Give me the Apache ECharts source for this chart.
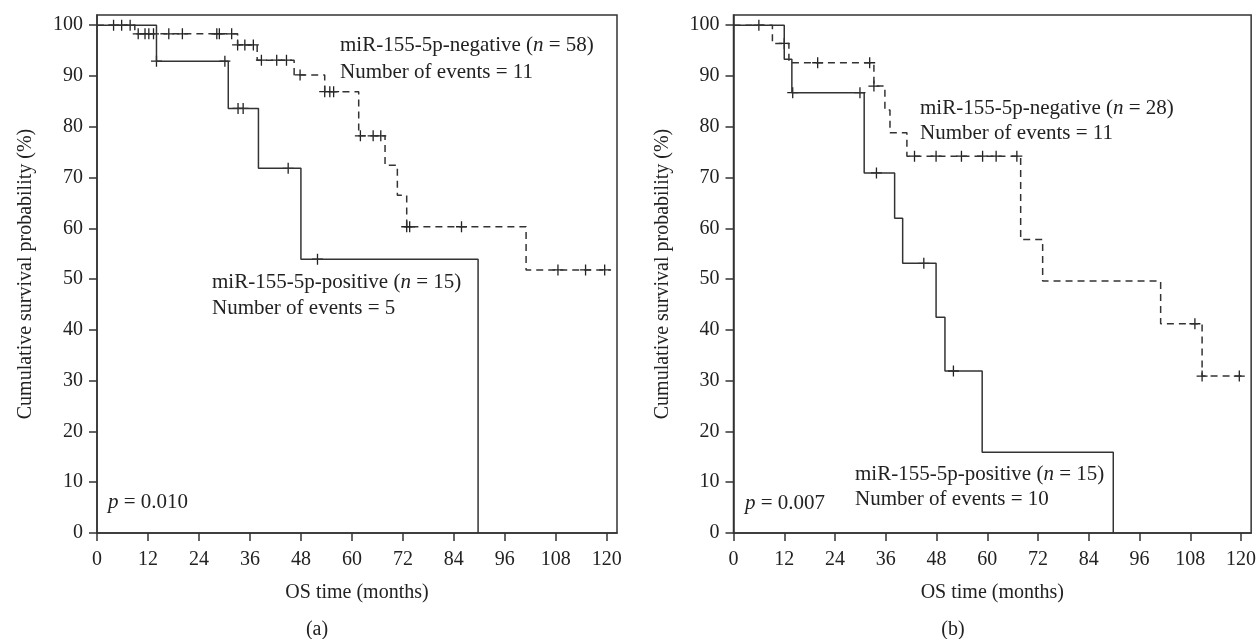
<!DOCTYPE html>
<html>
<head>
<meta charset="utf-8">
<script src="https://cdn.jsdelivr.net/npm/echarts@6/dist/echarts.min.js"></script>
<style>
html,body{margin:0;padding:0;background:#fff;}
#chart{width:1259px;height:639px;}
</style>
</head>
<body>
<div id="chart"></div>
<script>
// ---- tick labels ----
const xTicks = [0, 12, 24, 36, 48, 60, 72, 84, 96, 108, 120];
const yTicks = [0, 10, 20, 30, 40, 50, 60, 70, 80, 90, 100];

// ---- panel (a) ----
const aNegTime = [0, 8.9, 33.1, 37.7, 46.4, 53.6, 61.6, 67.8, 70.7, 72.9, 101.0, 121.0];
const aNegSurv = [100, 98.3, 96.1, 93.1, 90.2, 86.9, 78.2, 72.4, 66.5, 60.3, 51.8, 51.8];
const aNegCensor = [3.9, 5.8, 7.8, 9.7, 11.3, 12.2, 13.3, 16.9, 20.1, 28.2, 28.8, 31.7, 33.1, 34.8, 36.8, 38.7, 42.3, 44.6, 47.8, 53.6, 54.8, 55.7, 62.0, 65.0, 66.8, 72.9, 73.6, 85.8, 108.5, 115.0, 119.5];
const aPosTime = [0, 14.0, 30.9, 38.0, 48.0, 89.7];
const aPosSurv = [100, 92.9, 83.6, 71.8, 53.9, 0];
const aPosCensor = [14.0, 30.1, 33.2, 34.4, 45.0, 51.9];

// ---- panel (b) ----
const bNegTime = [0, 9.2, 13.1, 33.2, 35.8, 37.0, 41.0, 67.9, 73.1, 101.0, 110.8, 120.8];
const bNegSurv = [100, 96.4, 92.6, 88.0, 83.3, 78.8, 74.2, 57.8, 49.6, 41.2, 30.9, 30.9];
const bNegCensor = [6.0, 12.0, 19.9, 32.2, 33.2, 42.8, 47.9, 53.9, 58.9, 62.1, 67.0, 109.1, 110.8, 119.6];
const bPosTime = [0, 12.0, 13.8, 30.9, 38.1, 40.0, 47.9, 50.0, 58.8, 89.8];
const bPosSurv = [100, 93.3, 86.7, 70.9, 62.0, 53.1, 42.5, 31.9, 15.9, 0];
const bPosCensor = [14.0, 29.9, 33.8, 45.0, 52.0];

const FONT = '"Liberation Serif", "DejaVu Serif", serif';
const INK = '#222';
const LINE = '#333';

function curve(times, surv) {
  return times.map((t, i) => [t, surv[i]]);
}
function censorPts(cens, times, surv) {
  return cens.map(t => {
    let lvl = surv[0];
    for (let i = 0; i < times.length; i++) { if (times[i] <= t) lvl = surv[i]; }
    return [t, lvl];
  });
}

function makeX(idx) {
  return {
    type: 'value', gridIndex: idx, min: 0, max: 122.4,
    axisLine: { show: true, lineStyle: { color: LINE, width: 1.5 } },
    axisTick: { show: true, length: 8, customValues: xTicks, lineStyle: { color: LINE, width: 1.5 } },
    axisLabel: { customValues: xTicks, fontSize: 20, fontFamily: FONT, color: INK, margin: 17 },
    splitLine: { show: false },
    name: 'OS time (months)', nameLocation: 'middle', nameGap: 50,
    nameTextStyle: { fontSize: 20, fontFamily: FONT, color: INK }
  };
}
function makeY(idx) {
  return {
    type: 'value', gridIndex: idx, min: 0, max: 102,
    axisLine: { show: true, lineStyle: { color: LINE, width: 1.5 } },
    axisTick: { show: true, length: 8, customValues: yTicks, lineStyle: { color: LINE, width: 1.5 } },
    axisLabel: { customValues: yTicks, fontSize: 20, fontFamily: FONT, color: INK, margin: 14 },
    splitLine: { show: false },
    name: 'Cumulative survival probability (%)', nameLocation: 'middle', nameGap: 61,
    nameTextStyle: { fontSize: 20, fontFamily: FONT, color: INK }
  };
}
function lineSeries(idx, data, dashed) {
  return {
    type: 'line', xAxisIndex: idx, yAxisIndex: idx, data: data, step: 'end',
    symbol: 'none', silent: true, animation: false,
    lineStyle: { color: LINE, width: 1.5, type: dashed ? [7, 5] : 'solid' }
  };
}
function censorSeries(idx, data) {
  return {
    type: 'scatter', xAxisIndex: idx, yAxisIndex: idx, data: data,
    symbol: 'path://M0,5L10,5M5,0L5,10', symbolSize: 11, silent: true, animation: false,
    itemStyle: { color: 'none', borderColor: INK, borderWidth: 1.3, opacity: 1 }
  };
}
function label(x, y, txt, size) {
  return {
    type: 'text', x: x, y: y, silent: true,
    style: {
      text: txt, fill: INK, fontSize: size || 21, fontFamily: FONT, verticalAlign: 'middle', align: 'left',
      rich: { i: { fontStyle: 'italic', fontSize: size || 21, fontFamily: FONT, fill: INK } }
    }
  };
}

const chart = echarts.init(document.getElementById('chart'), null, { renderer: 'canvas' });
chart.setOption({
  animation: false,
  backgroundColor: '#fff',
  grid: [
    { left: 97, top: 15, width: 520, height: 518, show: true, borderColor: LINE, borderWidth: 1.5, backgroundColor: 'transparent' },
    { left: 733.5, top: 15, width: 520, height: 518, show: true, borderColor: LINE, borderWidth: 1.5, backgroundColor: 'transparent' }
  ],
  xAxis: [makeX(0), makeX(1)],
  yAxis: [makeY(0), makeY(1)],
  series: [
    lineSeries(0, curve(aNegTime, aNegSurv), true),
    lineSeries(0, curve(aPosTime, aPosSurv), false),
    censorSeries(0, censorPts(aNegCensor, aNegTime, aNegSurv)),
    censorSeries(0, censorPts(aPosCensor, aPosTime, aPosSurv)),
    lineSeries(1, curve(bNegTime, bNegSurv), true),
    lineSeries(1, curve(bPosTime, bPosSurv), false),
    censorSeries(1, censorPts(bNegCensor, bNegTime, bNegSurv)),
    censorSeries(1, censorPts(bPosCensor, bPosTime, bPosSurv))
  ],
  graphic: [
    label(340, 45, 'miR-155-5p-negative ({i|n} = 58)'),
    label(340, 72, 'Number of events = 11'),
    label(212, 282, 'miR-155-5p-positive ({i|n} = 15)'),
    label(212, 308, 'Number of events = 5'),
    label(108, 502, '{i|p} = 0.010'),
    label(920, 108, 'miR-155-5p-negative ({i|n} = 28)'),
    label(920, 133, 'Number of events = 11'),
    label(855, 474, 'miR-155-5p-positive ({i|n} = 15)'),
    label(855, 499, 'Number of events = 10'),
    label(745, 503, '{i|p} = 0.007'),
    { type: 'text', x: 317, y: 630, silent: true, style: { text: '(a)', fill: INK, fontSize: 20, fontFamily: FONT, align: 'center', verticalAlign: 'middle' } },
    { type: 'text', x: 953, y: 630, silent: true, style: { text: '(b)', fill: INK, fontSize: 20, fontFamily: FONT, align: 'center', verticalAlign: 'middle' } }
  ]
});
</script>
</body>
</html>
